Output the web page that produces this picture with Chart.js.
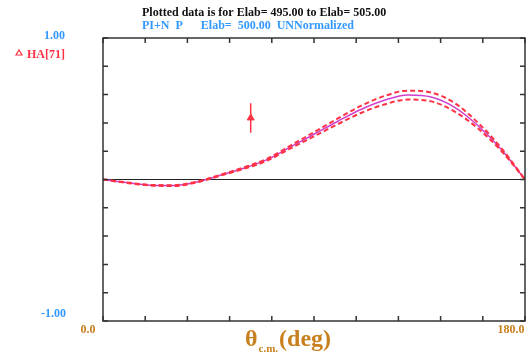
<!DOCTYPE html>
<html>
<head>
<meta charset="utf-8">
<script src="https://cdn.jsdelivr.net/npm/chart.js@4.4.0/dist/chart.umd.min.js"></script>
<style>
  html, body { margin: 0; padding: 0; background: #fff; }
  #wrap { width: 526px; height: 360px; position: relative; }
</style>
</head>
<body>
<div id="wrap"><canvas id="haChart" width="526" height="360"></canvas></div>
<script>
// angles (deg) and calculated HA curve with its upper / lower bounds
const theta = [0, 10, 20, 30, 40, 50, 60, 70, 80, 90, 100, 110, 120, 130, 140, 150, 160, 170, 180];
const haFit = [0, -0.022, -0.040, -0.043, -0.018, 0.030, 0.080, 0.140, 0.230, 0.320, 0.410, 0.495, 0.560, 0.597, 0.583, 0.510, 0.380, 0.210, 0];
const haUpper = [0, -0.020, -0.038, -0.040, -0.015, 0.033, 0.085, 0.147, 0.240, 0.335, 0.430, 0.520, 0.590, 0.628, 0.615, 0.540, 0.400, 0.220, 0];
const haLower = [0, -0.024, -0.042, -0.046, -0.021, 0.027, 0.075, 0.133, 0.220, 0.305, 0.390, 0.470, 0.530, 0.565, 0.552, 0.480, 0.360, 0.200, 0];

// measured point HA[71]
const dataTheta = [63];
const dataHA = [0.435];
const dataErr = [0.104];

const xTicks = [0, 18, 36, 54, 72, 90, 108, 126, 144, 162, 180];
const yTicks = [-1, -0.8, -0.6, -0.4, -0.2, 0, 0.2, 0.4, 0.6, 0.8, 1];

const RED = '#ff3344';
const MAGENTA = '#d040d0';
const BLUE = '#3399ff';
const ORANGE = '#c8801e';
const SERIF = '"Liberation Serif", "DejaVu Serif", serif';

const pts = (xs, ys) => xs.map((x, i) => ({ x: x, y: ys[i] }));

const framePlugin = {
  id: 'frame',
  beforeDatasetsDraw(chart) {
    const { ctx, chartArea: a, scales: { y } } = chart;
    ctx.save();
    // zero line
    ctx.strokeStyle = '#222';
    ctx.lineWidth = 1.2;
    ctx.beginPath();
    ctx.moveTo(a.left, y.getPixelForValue(0));
    ctx.lineTo(a.right, y.getPixelForValue(0));
    ctx.stroke();
    ctx.restore();
  },
  afterDraw(chart) {
    const { ctx, chartArea: a, scales: { x, y } } = chart;
    ctx.save();
    ctx.strokeStyle = '#333';
    ctx.lineWidth = 1.5;
    ctx.strokeRect(a.left, a.top, a.right - a.left, a.bottom - a.top);
    ctx.beginPath();
    xTicks.forEach(v => {
      const px = x.getPixelForValue(v);
      ctx.moveTo(px, a.bottom); ctx.lineTo(px, a.bottom - 5);
      ctx.moveTo(px, a.top); ctx.lineTo(px, a.top + 5);
    });
    yTicks.forEach(v => {
      const py = y.getPixelForValue(v);
      ctx.moveTo(a.left, py); ctx.lineTo(a.left + 5, py);
      ctx.moveTo(a.right, py); ctx.lineTo(a.right - 5, py);
    });
    ctx.stroke();

    // error bars on the measured point
    ctx.strokeStyle = RED;
    ctx.lineWidth = 1.5;
    dataTheta.forEach((t, i) => {
      const px = x.getPixelForValue(t);
      ctx.beginPath();
      ctx.moveTo(px, y.getPixelForValue(dataHA[i] + dataErr[i]));
      ctx.lineTo(px, y.getPixelForValue(dataHA[i] - dataErr[i]));
      ctx.stroke();
    });

    // texts
    ctx.textBaseline = 'middle';
    ctx.font = 'bold 12px ' + SERIF;
    ctx.fillStyle = '#111';
    ctx.textAlign = 'left';
    ctx.fillText('Plotted data is for Elab= 495.00 to Elab= 505.00', 142, 13);
    ctx.fillStyle = BLUE;
    ctx.fillText('PI+N  P      Elab=  500.00  UNNormalized', 142, 26);

    ctx.textAlign = 'right';
    ctx.fillText('1.00', 65, 36);
    ctx.fillText('-1.00', 66, 314);
    ctx.fillStyle = RED;
    ctx.font = 'bold 12px ' + SERIF;
    ctx.fillText('HA[71]', 65, 55);
    // legend triangle
    ctx.strokeStyle = RED;
    ctx.lineWidth = 1.2;
    ctx.beginPath();
    ctx.moveTo(19, 50); ctx.lineTo(22, 55); ctx.lineTo(16, 55); ctx.closePath();
    ctx.stroke();

    ctx.fillStyle = ORANGE;
    ctx.font = 'bold 12px ' + SERIF;
    ctx.textAlign = 'center';
    ctx.fillText('0.0', 88, 330);
    ctx.fillText('180.0', 511, 330);

    // axis title
    ctx.textAlign = 'left';
    ctx.font = 'bold 24px ' + SERIF;
    let xx = 245;
    ctx.fillText('θ', xx, 340);
    xx += ctx.measureText('θ').width + 1;
    ctx.font = 'bold 11px ' + SERIF;
    ctx.fillText('c.m.', xx, 349);
    xx += ctx.measureText('c.m.').width + 1;
    ctx.font = 'bold 24px ' + SERIF;
    ctx.fillText('(deg)', xx, 340);
    ctx.restore();
  }
};

new Chart(document.getElementById('haChart'), {
  type: 'line',
  data: {
    datasets: [
      {
        data: pts(theta, haUpper), borderColor: RED, borderWidth: 2, borderDash: [5, 3],
        pointRadius: 0, tension: 0.4, cubicInterpolationMode: 'monotone', fill: false
      },
      {
        data: pts(theta, haLower), borderColor: RED, borderWidth: 2, borderDash: [5, 3],
        pointRadius: 0, tension: 0.4, cubicInterpolationMode: 'monotone', fill: false
      },
      {
        data: pts(theta, haFit), borderColor: MAGENTA, borderWidth: 1.5,
        pointRadius: 0, tension: 0.4, cubicInterpolationMode: 'monotone', fill: false
      },
      {
        data: pts(dataTheta, dataHA), showLine: false, pointStyle: 'triangle',
        pointRadius: 4, backgroundColor: RED, borderColor: RED, borderWidth: 1
      }
    ]
  },
  options: {
    responsive: false,
    animation: false,
    layout: { autoPadding: false, padding: { left: 103, right: 1, top: 38, bottom: 39 } },
    plugins: { legend: { display: false }, tooltip: { enabled: false } },
    scales: {
      x: { type: 'linear', min: 0, max: 180, display: false },
      y: { type: 'linear', min: -1, max: 1, display: false }
    }
  },
  plugins: [framePlugin]
});
</script>
</body>
</html>
